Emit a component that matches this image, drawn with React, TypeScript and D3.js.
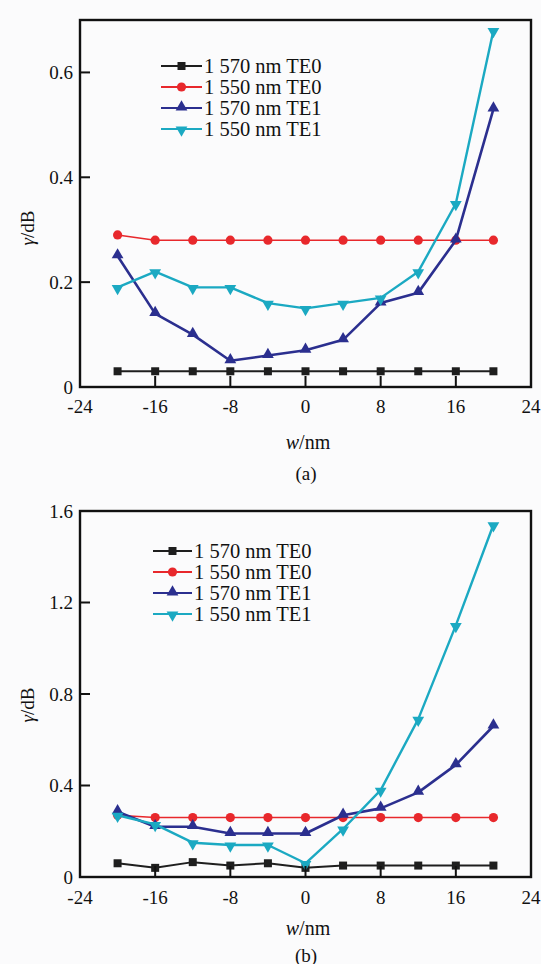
import React from "react";
import * as d3 from "d3";

const widths = [-20, -16, -12, -8, -4, 0, 4, 8, 12, 16, 20];
const seriesNames = ["1 570 nm TE0", "1 550 nm TE0", "1 570 nm TE1", "1 550 nm TE1"];
const seriesColors = ["#1e1e1e", "#e8282c", "#2b2f8f", "#1ba9c2"];
const seriesMarkers = ["square", "circle", "triangleUp", "triangleDown"];

const aTE0_1570 = [0.03, 0.03, 0.03, 0.03, 0.03, 0.03, 0.03, 0.03, 0.03, 0.03, 0.03];
const aTE0_1550 = [0.29, 0.28, 0.28, 0.28, 0.28, 0.28, 0.28, 0.28, 0.28, 0.28, 0.28];
const aTE1_1570 = [0.25, 0.14, 0.10, 0.05, 0.06, 0.07, 0.09, 0.16, 0.18, 0.28, 0.53];
const aTE1_1550 = [0.19, 0.22, 0.19, 0.19, 0.16, 0.15, 0.16, 0.17, 0.22, 0.35, 0.68];

const bTE0_1570 = [0.06, 0.04, 0.065, 0.05, 0.06, 0.04, 0.05, 0.05, 0.05, 0.05, 0.05];
const bTE0_1550 = [0.27, 0.26, 0.26, 0.26, 0.26, 0.26, 0.26, 0.26, 0.26, 0.26, 0.26];
const bTE1_1570 = [0.285, 0.22, 0.22, 0.19, 0.19, 0.19, 0.27, 0.30, 0.37, 0.49, 0.66];
const bTE1_1550 = [0.27, 0.23, 0.15, 0.14, 0.14, 0.06, 0.21, 0.38, 0.69, 1.10, 1.54];

const xTicks = [-24, -16, -8, 0, 8, 16, 24];
const aYTicks = [0, 0.2, 0.4, 0.6];
const bYTicks = [0, 0.4, 0.8, 1.2, 1.6];

const FONT = "Liberation Serif";

function Marker({ type, x, y, color }: { type: string; x: number; y: number; color: string }) {
  if (type === "square") return <rect x={x - 4} y={y - 4} width={8} height={8} fill={color} />;
  if (type === "circle") return <circle cx={x} cy={y} r={4.6} fill={color} />;
  const sym = d3.symbol().type(d3.symbolTriangle).size(60)();
  const down = type === "triangleDown";
  return <path d={sym || ""} transform={`translate(${x},${y + (down ? 1 : -1)}) rotate(${down ? 180 : 0})`} fill={color} />;
}

type PanelProps = {
  top: number;
  bottom: number;
  yMax: number;
  yTicks: number[];
  data: number[][];
  legendX: number;
  legendY: number;
  lineLen: number;
  tickLabelY: number;
  titleY: number;
  yTitleY: number;
  captionY: number;
  caption: string;
};

function Panel(p: PanelProps) {
  const left = 80;
  const right = 531;
  const x = d3.scaleLinear().domain([-24, 24]).range([left, right]);
  const y = d3.scaleLinear().domain([0, p.yMax]).range([p.bottom, p.top]);
  const line = d3
    .line<number>()
    .x((_, i) => x(widths[i]))
    .y((v) => y(v));
  const widthsStroke = [2, 1.6, 2.6, 2.4];
  const fmt = (v: number) => (v === 0 ? "0" : d3.format(".1f")(v));
  return (
    <g>
      {p.data.map((s, si) => (
        <g key={si}>
          <path d={line(s) || ""} fill="none" stroke={seriesColors[si]} strokeWidth={widthsStroke[si]} strokeLinejoin="round" />
          {s.map((v, i) => (
            <Marker key={i} type={seriesMarkers[si]} x={x(widths[i])} y={y(v)} color={seriesColors[si]} />
          ))}
        </g>
      ))}
      {xTicks
        .filter((t) => t > -24 && t < 24)
        .map((t) => (
          <line key={t} x1={x(t)} x2={x(t)} y1={p.bottom} y2={p.bottom - 11} stroke="#111" strokeWidth={2} />
        ))}
      {xTicks.map((t) => (
        <text key={"xl" + t} x={x(t)} y={p.tickLabelY} textAnchor="middle" dominantBaseline="central" fontFamily={FONT} fontSize={19} fill="#111">
          {t < 0 ? `-${Math.abs(t)}` : `${t}`}
        </text>
      ))}
      {p.yTicks
        .filter((t) => t > 0 && t < p.yMax)
        .map((t) => (
          <line key={t} x1={left} x2={left + 10} y1={y(t)} y2={y(t)} stroke="#111" strokeWidth={2} />
        ))}
      {p.yTicks.map((t) => (
        <text key={"yl" + t} x={left - 7} y={y(t)} textAnchor="end" dominantBaseline="central" fontFamily={FONT} fontSize={19} fill="#111">
          {fmt(t)}
        </text>
      ))}
      <rect x={left} y={p.top} width={right - left} height={p.bottom - p.top} fill="none" stroke="#111" strokeWidth={2.4} />
      {seriesNames.map((n, i) => {
        const ly = p.legendY + i * 21;
        const lx = p.legendX;
        return (
          <g key={n}>
            <line x1={lx} x2={lx + p.lineLen} y1={ly} y2={ly} stroke={seriesColors[i]} strokeWidth={2.2} />
            <Marker type={seriesMarkers[i]} x={lx + p.lineLen / 2} y={ly} color={seriesColors[i]} />
            <text x={lx + p.lineLen + 2} y={ly} dominantBaseline="central" fontFamily={FONT} fontSize={20.5} fill="#111">
              {n}
            </text>
          </g>
        );
      })}
      <text x={308} y={p.titleY} textAnchor="middle" dominantBaseline="central" fontFamily={FONT} fontSize={20} fill="#111">
        <tspan fontStyle="italic">w</tspan>/nm
      </text>
      <text
        transform={`translate(27,${p.yTitleY}) rotate(-90)`}
        textAnchor="middle"
        dominantBaseline="central"
        fontFamily={FONT}
        fontSize={19}
        fill="#111"
      >
        <tspan fontStyle="italic">γ</tspan>/dB
      </text>
      <text x={306} y={p.captionY} textAnchor="middle" dominantBaseline="central" fontFamily={FONT} fontSize={19} fill="#111">
        {p.caption}
      </text>
    </g>
  );
}

export default function App() {
  return (
    <svg width={541} height={964} style={{ position: "absolute", left: 0, top: 0 }}>
      <rect x={0} y={0} width={541} height={964} fill="#fbfbfc" />
      <Panel
        top={20}
        bottom={387}
        yMax={0.7}
        yTicks={aYTicks}
        data={[aTE0_1570, aTE0_1550, aTE1_1570, aTE1_1550]}
        legendX={161}
        legendY={66}
        lineLen={41}
        tickLabelY={406}
        titleY={442}
        yTitleY={228}
        captionY={473}
        caption="(a)"
      />
      <Panel
        top={511}
        bottom={877}
        yMax={1.6}
        yTicks={bYTicks}
        data={[bTE0_1570, bTE0_1550, bTE1_1570, bTE1_1550]}
        legendX={153}
        legendY={551}
        lineLen={39}
        tickLabelY={897}
        titleY={928}
        yTitleY={705}
        captionY={955}
        caption="(b)"
      />
    </svg>
  );
}
